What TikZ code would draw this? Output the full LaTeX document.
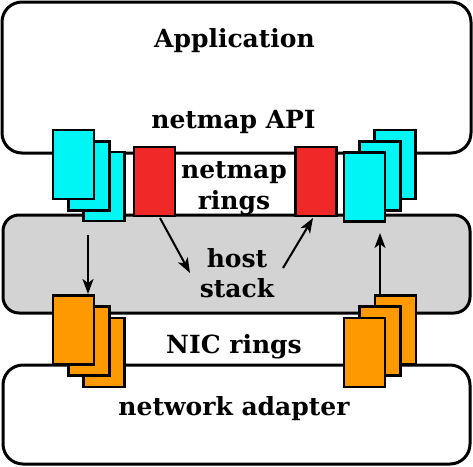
\documentclass[tikz,border=0pt]{standalone}
\usepackage{fontspec}
\setmainfont{DejaVu Serif}
\usetikzlibrary{arrows.meta}
\definecolor{ringred}{RGB}{240,40,40}
\definecolor{ringorange}{RGB}{255,153,0}
\definecolor{ringcyan}{RGB}{0,245,245}
\definecolor{stackgray}{RGB}{211,211,211}
\begin{document}
\begin{tikzpicture}[x=1pt,y=-1pt,
    layer/.style={draw,line width=3pt,rounded corners=20pt,inner sep=0pt},
    ring/.style={draw,line width=2.2pt,minimum width=41pt,minimum height=69pt,inner sep=0pt},
    label/.style={anchor=base,inner sep=0pt,font=\fontsize{25}{30}\selectfont\bfseries},
    flow/.style={line width=2pt,-{Stealth[length=15pt,width=11pt,inset=4pt]}}]
    \useasboundingbox (0,0) rectangle (473,466);
    % layers
    \node[layer,minimum width=469pt,minimum height=151pt] (app) at (236.5,77.5) {};
    \node[layer,fill=stackgray,rounded corners=16pt,minimum width=467pt,minimum height=98pt] (host) at (236.5,264) {};
    \node[layer,minimum width=467pt,minimum height=99pt] (nic) at (236.5,414.5) {};
    % netmap rings, left
    \node[ring,fill=ringcyan] (txc) at (104,186.5) {};
    \node[ring,fill=ringcyan] (txb) at (89,176) {};
    \node[ring,fill=ringcyan] (txa) at (73.5,164.5) {};
    \node[ring,fill=ringred] (hrx) at (154.5,181.5) {};
    % netmap rings, right
    \node[ring,fill=ringred] (htx) at (316,181.5) {};
    \node[ring,fill=ringcyan] (rxc) at (395,164.5) {};
    \node[ring,fill=ringcyan] (rxb) at (380,176) {};
    \node[ring,fill=ringcyan] (rxa) at (364.5,187) {};
    % NIC rings
    \node[ring,fill=ringorange] (ntxc) at (104,352.5) {};
    \node[ring,fill=ringorange] (ntxb) at (89,341) {};
    \node[ring,fill=ringorange] (ntxa) at (73.5,330) {};
    \node[ring,fill=ringorange] (nrxc) at (395.5,330) {};
    \node[ring,fill=ringorange] (nrxb) at (380,341) {};
    \node[ring,fill=ringorange] (nrxa) at (364.5,352.5) {};
    % labels
    \node[label] (applbl) at (234.5,47) {Application};
    \node[label] (apilbl) at (233.5,128) {netmap API};
    \node[label] (nmlbl) at (234,178) {netmap};
    \node[label] (rnglbl) at (234,209) {rings};
    \node[label] (hostlbl) at (237,267) {host};
    \node[label] (stklbl) at (237,297) {stack};
    \node[label] (niclbl) at (234,353) {NIC rings};
    \node[label] (adplbl) at (234,415) {network adapter};
    % arrows
    \coordinate (d1) at (88,235);
    \coordinate (d2) at (88,294);
    \coordinate (u1) at (380,296);
    \coordinate (u2) at (380,233);
    \coordinate (h1) at (160,218);
    \coordinate (h2) at (190,273);
    \coordinate (h3) at (283,268);
    \coordinate (h4) at (313,218);
    \draw[flow] (d1) -- (d2);
    \draw[flow] (u1) -- (u2);
    \draw[flow] (h1) -- (h2);
    \draw[flow] (h3) -- (h4);
\end{tikzpicture}
\end{document}
